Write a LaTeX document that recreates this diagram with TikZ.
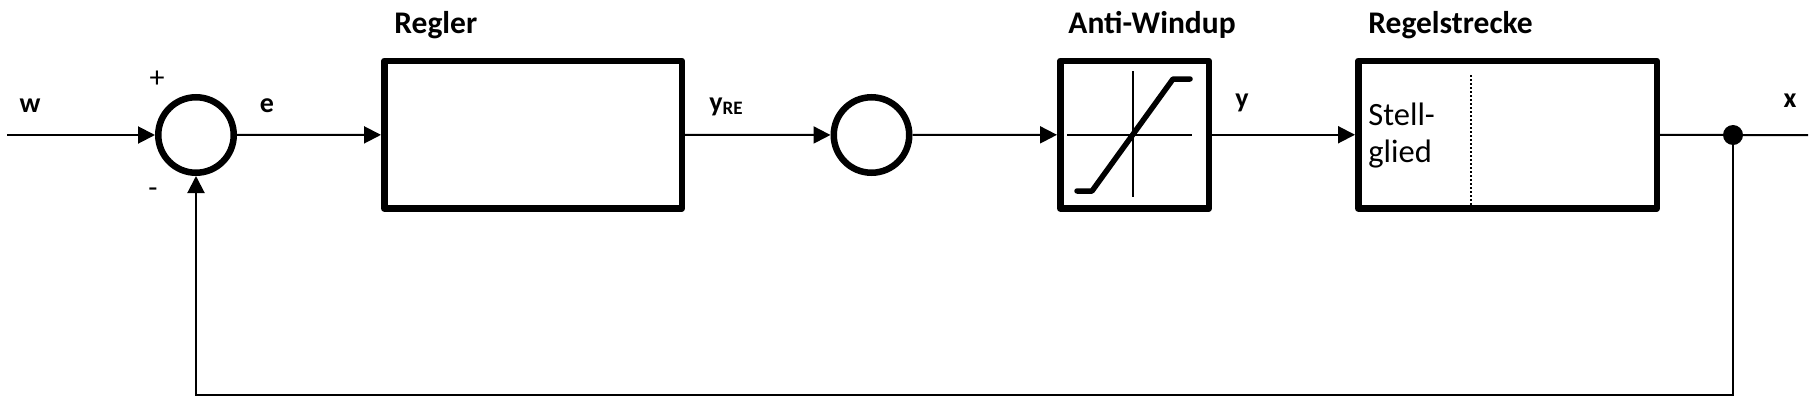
\documentclass[tikz,border=0pt]{standalone}
\usepackage{fontspec}
\setmainfont{Carlito}
\usetikzlibrary{arrows.meta}
\begin{document}
\begin{tikzpicture}[x=0.5pt,y=-0.5pt,
  sig/.style={line width=1pt,-{Triangle[length=8.5pt,width=8.5pt]}},
  wire/.style={line width=1pt},
  blockbox/.style={draw,line width=3.25pt,rectangle,inner sep=0pt,minimum height=73.75pt,line join=round},
  sumnode/.style={draw,circle,line width=3.25pt,minimum size=37.75pt,inner sep=0pt},
  boldlbl/.style={font=\bfseries\fontsize{14}{16}\selectfont,inner sep=0pt,anchor=base},
  titlelbl/.style={font=\bfseries\fontsize{15.75}{18}\selectfont,inner sep=0pt,anchor=base west},
  signlbl/.style={font=\fontsize{15}{17}\selectfont,inner sep=0pt},
  bodytext/.style={font=\fontsize{16.25}{18.5}\selectfont,inner sep=0pt,anchor=base west},
  satcurve/.style={line width=2.75pt,line cap=round,line join=round},
  axisline/.style={line width=1pt},
  dotline/.style={line width=0.8pt,dash pattern=on 1.2pt off 0.8pt}
]
\useasboundingbox (0,0) rectangle (1818,407);

% blocks
\node[sumnode] (sum1) at (196,135) {};
\node[blockbox,minimum width=148.75pt] (regler) at (533,134.75) {};
\node[sumnode] (sum2) at (871.5,135) {};
\node[blockbox,minimum width=74.25pt] (aw) at (1134.5,134.75) {};
\node[blockbox,minimum width=149.25pt] (strecke) at (1507.5,134.75) {};
\node[circle,fill=black,inner sep=0pt,minimum size=10pt] (dot) at (1733,135) {};

\coordinate (in) at (7,135);
\coordinate (out) at (1808,135);

% saturation characteristic inside anti-windup block
\draw[axisline] (1067,135) -- (1192,135);
\draw[axisline] (1133,71) -- (1133,197);
\draw[satcurve] (1077,191) -- (1092,191) -- (1173,79) -- (1190,79);

% dotted separator in Regelstrecke
\draw[dotline] (1471,75) -- (1471,205);

% connectors
\draw[sig] (in) -- (sum1);
\draw[sig] (sum1) -- (regler);
\draw[sig] (regler) -- (sum2);
\draw[sig] (sum2) -- (aw);
\draw[sig] (aw) -- (strecke);
\draw[wire] (strecke.east) -- (dot.center) -- (out);
\draw[sig] (dot.center) -- ++(0,260) -| (sum1.south);

% labels
\node[boldlbl] (lw) at (30,112) {w};
\node[signlbl] (lplus) at (157,79) {+};
\node[signlbl] (lminus) at (153,193) {-};
\node[boldlbl] (le) at (267,112) {e};
\node[titlelbl] (lregler) at (394,33) {Regler};
\node[boldlbl,anchor=base west] (lyre) at (709,111) {y\raisebox{-1.5pt}{\fontsize{9.5}{11}\selectfont RE}};
\node[titlelbl] (law) at (1068,33) {Anti-Windup};
\node[boldlbl] (ly) at (1242,107) {y};
\node[titlelbl] (lstrecke) at (1368,33) {Regelstrecke};
\node[bodytext] (lstell) at (1368,125) {Stell-};
\node[bodytext] (lglied) at (1368,162) {glied};
\node[boldlbl] (lx) at (1790,107) {x};
\end{tikzpicture}
\end{document}
